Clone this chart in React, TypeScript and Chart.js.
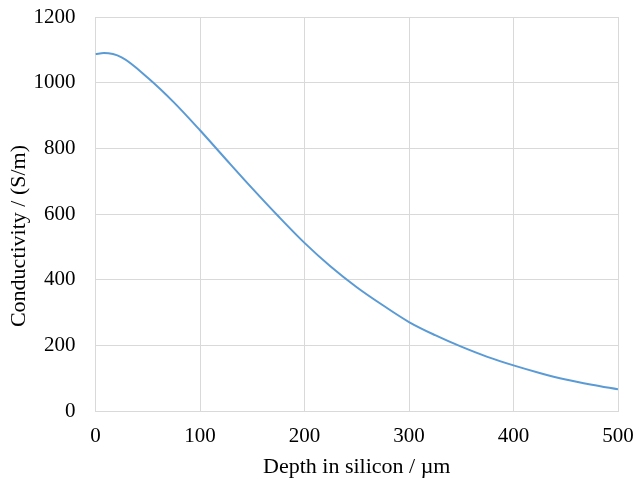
import React, { useEffect, useRef } from "react";
import { Chart, registerables } from "chart.js";

Chart.register(...registerables);

const depth = [0, 8, 25, 50, 75, 100, 125, 150, 175, 200, 225, 250, 275, 300, 325, 350, 375, 400, 425, 450, 475, 500];
const conductivity = [1087, 1090, 1077, 1015, 940, 855, 766, 678, 593, 512, 440, 377, 322, 271, 231, 196, 165, 139, 116, 96, 80, 66];

const xTitle = "Depth in silicon / µm";
const yTitle = "Conductivity / (S/m)";

const FAMILY = "'Liberation Serif', 'Times New Roman', serif";

const titlesPlugin = {
  id: "axisTitles",
  afterDraw(chart: any) {
    const ctx = chart.ctx as CanvasRenderingContext2D;
    const area = chart.chartArea;
    ctx.save();
    ctx.fillStyle = "#000";
    ctx.font = `22px ${FAMILY}`;
    ctx.textAlign = "center";
    ctx.textBaseline = "alphabetic";
    ctx.fillText(xTitle, (area.left + area.right) / 2, 473);
    ctx.translate(25, 236);
    ctx.rotate(-Math.PI / 2);
    ctx.fillText(yTitle, 0, 0);
    ctx.restore();
  },
};

export default function App() {
  const ref = useRef<HTMLCanvasElement | null>(null);
  useEffect(() => {
    if (!ref.current) return;
    const font = { family: FAMILY, size: 21 };
    const chart = new Chart(ref.current, {
      type: "scatter",
      data: {
        datasets: [
          {
            data: depth.map((x, i) => ({ x, y: conductivity[i] })),
            showLine: true,
            borderColor: "#5b9bd5",
            borderWidth: 2,
            pointRadius: 0,
            cubicInterpolationMode: "monotone",
            fill: false,
          },
        ],
      },
      options: {
        animation: false,
        responsive: false,
        maintainAspectRatio: false,
        layout: { padding: { top: 17, right: 17, left: 0, bottom: 0 } },
        plugins: { legend: { display: false }, tooltip: { enabled: false } },
        scales: {
          x: {
            type: "linear",
            min: 0,
            max: 500,
            ticks: { stepSize: 100, color: "#000", font, padding: 13, maxRotation: 0 },
            grid: { color: "#d9d9d9", drawTicks: false },
            border: { color: "#d9d9d9" },
            afterFit: (s: any) => {
              s.height = 69;
              s.paddingLeft = 0;
              s.paddingRight = 0;
            },
          },
          y: {
            min: 0,
            max: 1200,
            ticks: {
              stepSize: 200,
              color: "#000",
              font,
              padding: 20,
              callback: (v: any) => String(v),
            },
            grid: { color: "#d9d9d9", drawTicks: false },
            border: { color: "#d9d9d9" },
            afterFit: (s: any) => {
              s.width = 95.5;
              s.paddingTop = 0;
              s.paddingBottom = 0;
            },
          },
        },
      },
      plugins: [titlesPlugin],
    });
    return () => chart.destroy();
  }, []);
  return (
    <div style={{ position: "fixed", left: 0, top: 0, width: 635, height: 480, background: "#fff" }}>
      <canvas ref={ref} width={635} height={480} />
    </div>
  );
}
